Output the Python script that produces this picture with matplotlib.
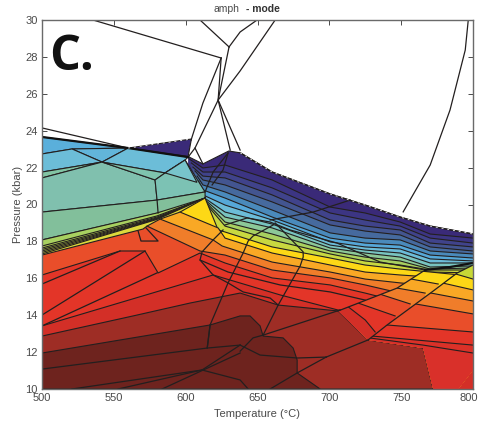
import matplotlib
matplotlib.use('Agg')
import matplotlib.pyplot as plt
from matplotlib.patches import Polygon
from matplotlib.transforms import ScaledTranslation

plt.rcParams['font.family'] = ['Liberation Sans', 'DejaVu Sans']

EDGE = '#231f1f'
GREY = '#4a4a4a'

# white field lines above the coloured part: (T list, P list)
white_lines = [
    ([500, 560], [24.15, 23.06]),
    ([535.5, 624.7], [30, 27.94]),
    ([610, 630.2], [30, 28.54]),
    ([624.7, 622.6, 606.5, 601.7], [27.94, 25.66, 23.06, 22.57]),
    ([630.2, 622.6, 631], [28.54, 25.66, 22.95]),
    ([624.7, 612, 603.8], [27.94, 25.5, 23.5]),
    ([662.3, 637.9, 622.6, 637.9], [30, 27.24, 25.66, 22.95]),
    ([649.7, 637.9, 630.2], [30, 29.35, 28.54]),
    ([606.5, 612], [23.06, 22.2]),
    ([751.4, 770.2, 784, 794.6, 796.7], [19.6, 22.14, 25.12, 28.37, 30]),
]

# purple sliver on the left
wedge_t = [560, 604, 601.7]
wedge_p = [23.06, 23.55, 22.6]

# top of the right hand coloured field
top_t = [601.7, 612, 630, 638, 660.2, 700.6, 724.9, 749.3, 770.2, 800]
top_p = [22.6, 22.2, 22.9, 22.8, 21.76, 20.57, 19.97, 19.32, 18.83, 18.4]

# bands below the top curve, sampled at band_t, starting on the fan line
band_t = [612, 627.4, 660.2, 700.6, 724.9, 749.3, 770.2, 800]
fan_t = [602.4, 604, 605, 606.5, 608, 609, 610.5, 611, 611.5, 611.7, 611.9]
fan_p = [22.47, 22.25, 22.03, 21.82, 21.54, 21.27, 21.0, 20.79, 20.68, 20.57, 20.52]
band_p = [
    [21.98, 22.14, 21.33, 19.86, 19.54, 19.05, 18.4, 18.18],
    [21.76, 21.76, 20.9, 19.54, 19.16, 18.83, 18.18, 17.91],
    [21.54, 21.44, 20.52, 19.16, 18.83, 18.62, 17.91, 17.7],
    [21.33, 21.06, 20.14, 18.89, 18.56, 18.35, 17.7, 17.48],
    [21.06, 20.68, 19.7, 18.46, 18.18, 18.08, 17.48, 17.32],
    [20.79, 20.35, 19.32, 18.18, 17.91, 17.8, 17.26, 17.1],
    [20.52, 19.97, 19.16, 17.97, 17.7, 17.59, 17.05, 16.94],
    [20.41, 19.59, 18.94, 17.8, 17.53, 17.37, 16.83, 16.83],
    [20.35, 19.32, 18.73, 17.64, 17.37, 17.15, 16.61, 16.67],
    [20.3, 19.05, 18.4, 17.48, 17.15, 16.94, 16.5, 16.56],
    [20.24, 18.83, 18.08, 17.32, 16.94, 16.72, 16.45, 16.45],
]
band_colors = ['#3a2a78', '#3c3583', '#40438b', '#435590', '#466a9e', '#4a8abb',
               '#56a8d8', '#6cbcd8', '#78c4c0', '#8cc898', '#a8d060', '#c8d840']

# cells of the upper left field: T list, P list, colour
left_cells = [
    ([500, 560, 520.9, 500], [23.66, 23.06, 23.01, 22.74], '#5aafdb'),
    ([520.9, 560, 541.8], [23.01, 23.06, 22.3], '#62b5da'),
    ([500, 520.9, 541.8, 500], [22.74, 23.01, 22.3, 21.76], '#6cbdd8'),
    ([560, 601.7, 599.6, 585.7, 541.8], [23.06, 22.57, 22.41, 21.71, 22.3], '#6cbdd8'),
    ([500, 541.8, 500], [21.76, 22.3, 21.44], '#82c4a4'),
    ([500, 541.8, 578.7, 580.1, 500], [21.44, 22.3, 21.33, 20.24, 19.59], '#80c0ae'),
    ([541.8, 585.7, 578.7], [22.3, 21.71, 21.33], '#7fc4ae'),
    ([585.7, 599.6, 613.5, 580.1, 578.7], [21.71, 22.41, 20.68, 20.24, 21.33], '#7cc2b4'),
    ([585.7, 599.6, 607.9], [21.71, 22.41, 21.2], '#78c4cc'),
    ([500, 580.1, 613.5, 613.5, 603.1, 580.8, 500],
     [19.59, 20.24, 20.68, 20.35, 19.97, 19.54, 18.08], '#82bf9b'),
]

# lime and olive lines, they all run together at the peak
lime_t = [500, 580, 613.5]
lime_p = [
    [18.08, 19.54, 20.35],
    [17.75, 19.38, 20.35],
    [17.64, 19.32, 20.35],
    [17.56, 19.27, 20.35],
    [17.48, 19.24, 20.35],
    [17.4, 19.21, 20.35],
    [17.32, 19.19, 20.35],
]
lime_colors = ['#a8d060', '#b4d254', '#bcd44c', '#c4d648', '#ccd644', '#d4d840', '#dcd83c']

# yellow to dark red bands, top edge of each, painted top down
mid_curves = [
    ([596.1, 613.5, 622.6, 627.4, 660.2, 700.6, 724.9, 749.3, 770.2, 800],
     [19.59, 20.35, 18.62, 18.51, 17.7, 17.1, 16.72, 16.5, 16.34, 16.29], '#fdd816'),
    ([582.2, 596.1, 622.6, 627.4, 660.2, 700.6, 724.9, 749.3, 800],
     [19.21, 19.59, 18.73, 18.18, 17.37, 16.72, 16.34, 16.18, 15.91], '#f9a825'),
    ([573.1, 582.2, 619.1, 625.4, 660.2, 700.6, 724.9, 749.3, 800],
     [18.83, 19.21, 18.08, 17.75, 16.88, 16.34, 15.96, 15.75, 15.37], '#f07d2a'),
    ([500, 570.3, 573.1, 610, 627.4, 660.2, 700.6, 724.9, 749.3, 800],
     [17.26, 18.67, 18.83, 17.48, 17.26, 16.45, 16.02, 15.64, 15.2, 14.72], '#e94e2a'),
    ([500, 554.3, 571.7, 580.8, 610, 627.4, 660.2, 700.6, 724.9, 749.3, 800],
     [16.18, 17.48, 17.48, 16.29, 17.37, 16.83, 16.02, 15.64, 15.2, 14.72, 14.07], '#e33528'),
    ([500, 619.1, 665.7, 706.1, 800],
     [13.42, 16.18, 15.1, 14.28, 14.0], '#d32f27'),
]

brown_t = [500, 563.4, 603.1, 637.9, 664.4, 706.1, 727, 765.3, 772.3, 500]
brown_p = [12.87, 13.96, 14.66, 15.2, 14.55, 14.23, 12.66, 12.22, 10, 10]
dark_t = [500, 617, 637.9, 644.8, 651.8, 653.9, 667.8, 674.8, 677.6, 677.6, 693.6, 500]
dark_p = [11.95, 13.47, 13.96, 13.96, 13.42, 12.87, 12.77, 12.22, 11.57, 10.87, 10, 10]

# strip between the two diagonals
strip_t = [706.1, 747.2, 766.7, 789, 772.3, 740.2, 727]
strip_p = [14.23, 15.47, 16.45, 16.29, 15.31, 13.47, 12.66]
strip_curves = [
    ([740, 756.3, 791], [16.9, 16.45, 16.18], '#fdd816'),
    ([720, 749.3, 757, 775.8], [16.6, 16.07, 15.96, 15.69], '#f9a825'),
    ([720, 738.9, 747.2, 766.7], [15.9, 15.64, 15.47, 15.2], '#f07d2a'),
    ([715, 728.4, 736.8, 756.3], [15.7, 15.37, 15.1, 14.61], '#e94e2a'),
    ([700, 714.5, 720, 745.8], [15.1, 14.82, 14.66, 13.96], '#e33528'),
    ([700, 712.4, 725, 731.9], [14.4, 14.5, 13.74, 13.09], '#d32f27'),
]

# field right of the second diagonal
right_t = [727, 740.2, 772.3, 789, 800, 800, 789.7, 772.3, 765.3]
right_p = [12.66, 13.47, 15.31, 16.29, 16.72, 11.03, 10, 10, 12.22]
right_curves = [
    ([760, 800], [17.0, 16.83], '#c8d936'),
    ([720, 785.5, 800], [17.78, 16.29, 15.96], '#fdd816'),
    ([720, 775.8, 800], [16.79, 15.8, 15.37], '#f9a825'),
    ([720, 766.7, 800], [15.95, 15.26, 14.77], '#f07d2a'),
    ([720, 756.3, 800], [15.15, 14.66, 14.07], '#e94e2a'),
    ([720, 740.2, 800], [13.6, 13.47, 13.09], '#e33528'),
    ([720, 729.8, 800], [12.94, 12.87, 12.38], '#db3128'),
    ([720, 765.3, 800], [12.85, 12.38, 11.95], '#d9302a'),
]

# field boundaries drawn over the colours
cross_lines = [
    ([662.3, 681.8, 681.8, 679.7, 664.4, 653.9], [19, 17.43, 17.15, 16.67, 14.55, 12.92]),
    ([660.9, 646.9, 643.5, 640, 629.5, 617, 615], [18.89, 18.29, 18.02, 17.37, 15.75, 13.47, 12.22]),
    ([626, 619.1, 611.4, 610, 619.1, 629.5, 640, 658.8, 664.4],
     [18.62, 18.08, 17.43, 16.99, 16.18, 15.75, 15.26, 14.93, 14.55]),
    ([613.5, 619.1, 629.5], [20.68, 21.76, 22.79]),
    ([618.4, 626, 629.5], [21.06, 21.87, 22.79]),
    ([627.4, 642.8, 658.8, 672.7, 705.4, 735.4, 766.7], [18.89, 19.27, 19.05, 18.62, 17.91, 16.88, 16.45]),
    ([658.8, 688.7, 714.5], [19.16, 19.59, 20.24]),
    ([580.1, 580.8], [20.24, 19.54]),
    ([610, 629.5, 665.7, 700.6, 724.9], [16.99, 16.34, 15.64, 15.26, 14.82]),
    ([500, 554.3], [15.69, 17.48]),
    ([500, 571.7], [14.01, 17.48]),
    ([500, 580], [13.42, 16.29]),
    ([566.9, 568.9, 580.8, 572.4], [18.56, 18.02, 18.02, 18.73]),
    ([500, 615, 637.9], [11.08, 12.22, 12.38]),
    ([615, 617], [12.22, 13.47]),
    ([520.9, 611.4, 637.9], [10, 11.03, 12.38]),
    ([553, 611.4], [10, 11.03]),
    ([583.6, 637.9], [10, 11.95]),
    ([611.4, 637.9, 643.5], [11.03, 10.49, 10]),
    ([637.9, 651.8, 677.6, 697.8], [12.38, 11.84, 11.68, 11.73]),
    ([637.9, 646.9, 653.9], [12.05, 12.77, 12.92]),
    ([653.9, 707.5], [12.92, 14.28]),
    ([697.8, 727], [11.73, 12.66]),
    ([697.8, 677.6, 658.8], [11.73, 10.87, 10]),
    ([706.1, 747.2, 766.7], [14.23, 15.47, 16.45]),
    ([727, 740.2, 772.3, 789, 800], [12.66, 13.47, 15.31, 16.29, 16.72]),
]
merge_t = [500, 560, 601.7]
merge_p = [23.66, 23.06, 22.57]
lens_t = [766.7, 784, 800]
lens_p = [16.45, 16.61, 16.83]

x_ticks = [500, 550, 600, 650, 700, 750, 800]
y_ticks = [10, 12, 14, 16, 18, 20, 22, 24, 26, 28, 30]


def paint(ax, t, p, color, clip=None):
    # fill from the curve down to the bottom of the plot
    pts = list(zip(t, p)) + [(t[-1], 10), (t[0], 10)]
    patch = Polygon(pts, closed=True, facecolor=color, edgecolor='none', zorder=2)
    ax.add_patch(patch)
    line, = ax.plot(t, p, color=EDGE, lw=0.8, zorder=2)
    if clip is not None:
        patch.set_clip_path(clip)
        line.set_clip_path(clip)


def cell(ax, t, p, color, zorder=2):
    ax.add_patch(Polygon(list(zip(t, p)), closed=True, facecolor=color,
                         edgecolor=EDGE, lw=0.8, zorder=zorder))


fig = plt.figure(figsize=(4.78, 4.26), dpi=100)
ax = fig.add_axes([42 / 478, 1 - 389 / 426, 431 / 478, 369 / 426])

# fan of purple to green bands
paint(ax, top_t, top_p, band_colors[0])
for i in range(len(band_p)):
    paint(ax, [fan_t[i]] + band_t, [fan_p[i]] + band_p[i], band_colors[i + 1])

cell(ax, wedge_t, wedge_p, band_colors[0])
for t, p, c in left_cells:
    cell(ax, t, p, c)

for p, c in zip(lime_p, lime_colors):
    paint(ax, lime_t, p, c)
for t, p, c in mid_curves:
    paint(ax, t, p, c)

cell(ax, brown_t, brown_p, '#9e2d25')
cell(ax, dark_t, dark_p, '#6e231e')

strip = Polygon(list(zip(strip_t, strip_p)), closed=True, transform=ax.transData)
for t, p, c in strip_curves:
    paint(ax, t, p, c, clip=strip)

right = Polygon(list(zip(right_t, right_p)), closed=True, transform=ax.transData)
for t, p, c in right_curves:
    paint(ax, t, p, c, clip=right)

for t, p in white_lines + cross_lines:
    ax.plot(t, p, color=EDGE, lw=0.9, zorder=3)
ax.plot(merge_t, merge_p, color='#111111', lw=1.6, zorder=3)
ax.plot(lens_t, lens_p, color='#111111', lw=1.6, zorder=3)

# dashed grey edge on the top of the purple
ax.plot(top_t[3:], top_p[3:], color=EDGE, lw=1.0, zorder=4)
ax.plot(top_t[3:], top_p[3:], color='#dddddd', lw=0.7, dashes=(2, 4), zorder=5)
ax.plot(wedge_t[:2], wedge_p[:2], color='#dddddd', lw=0.7, dashes=(2, 4), zorder=5)

ax.set_xlim(500, 800)
ax.set_ylim(10, 30)
ax.set_xticks(x_ticks)
ax.set_yticks(y_ticks)
ax.tick_params(direction='in', top=True, right=True, length=3.5, width=0.7,
               color=GREY, labelcolor=GREY, labelsize=8, pad=3)
for s in ax.spines.values():
    s.set_color('#6a6a6a')
    s.set_linewidth(1.0)
    s.set_zorder(6)
ax.set_xlabel('Temperature (°C)', color=GREY, fontsize=8, labelpad=4)
ax.set_ylabel('Pressure (kbar)', color=GREY, fontsize=8, labelpad=2)

# keep the last x label inside the picture
last = ax.get_xticklabels()[-1]
last.set_transform(last.get_transform() + ScaledTranslation(-0.04, 0, fig.dpi_scale_trans))

fig.text(213 / 478, 1 - 9 / 426, 'amph', fontsize=7.5, color=GREY, ha='left', va='center')
fig.text(246 / 478, 1 - 9 / 426, '- mode', fontsize=7.5, color='#333333', weight='bold', ha='left', va='center')
fig.text(49 / 478, 1 - 70 / 426, 'C.', fontsize=35, color='#111111', family=['Open Sans', 'DejaVu Sans'],
         weight='bold', ha='left', va='baseline')

fig.savefig('out.png', dpi=100)
